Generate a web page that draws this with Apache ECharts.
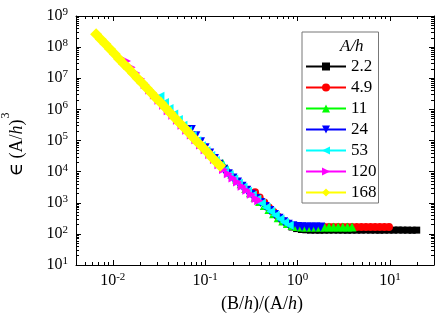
<!DOCTYPE html>
<html><head><meta charset="utf-8">
<script src="https://cdn.jsdelivr.net/npm/echarts@6/dist/echarts.min.js"></script>
<style>html,body{margin:0;padding:0;background:#fff}#c{width:436px;height:316px}</style>
</head><body><div id="c"></div>
<script>
// ---- data ----
const seriesNames = ['2.2', '4.9', '11', '24', '53', '120', '168'];

const x22 = [0.776,0.871,0.977,1.10,1.23,1.38,1.55,1.74,1.95,2.19,2.45,2.75,3.09,3.47,3.89,4.37,4.90,5.50,6.17,6.92,7.76,8.71,9.77,11.0,12.3,13.8,15.5,17.4,19.5];
const y22 = [200,166,148,138,135,132,132,131,132,132,133,132,132,131,132,132,132,133,132,132,131,132,132,132,133,132,132,131,132];

const x49 = [0.347,0.389,0.437,0.490,0.550,0.617,0.692,0.776,0.871,0.977,1.10,1.23,1.38,1.55,1.74,1.95,2.19,2.45,2.75,3.09,3.47,3.89,4.37,4.90,5.50,6.17,6.92,7.76,8.71,9.77];
const y49 = [2190,1480,1020,708,501,355,269,219,186,174,166,165,166,167,166,165,166,166,167,166,165,166,166,167,166,165,166,166,165,166];

const x11 = [0.155,0.174,0.195,0.219,0.245,0.275,0.309,0.347,0.389,0.437,0.490,0.550,0.617,0.692,0.776,0.871,0.977,1.10,1.23,1.38,1.55,1.74,1.95,2.19,2.45,2.75,3.09,3.47,3.89];
const y11 = [18600,12300,8300,5750,4070,2880,2090,1510,1100,813,603,447,331,257,214,186,174,166,166,167,166,165,166,166,167,166,165,166,166];

const x24 = [0.0708,0.0794,0.0891,0.100,0.112,0.126,0.141,0.158,0.178,0.200,0.224,0.251,0.282,0.316,0.355,0.398,0.447,0.501,0.562,0.631,0.708,0.794,0.891,1.00,1.12,1.26,1.41,1.58,1.78];
const y24 = [224000,141000,91000,59000,39800,26300,17400,12000,8500,6200,4600,3400,2500,1860,1380,1020,759,562,417,316,245,204,182,174,170,166,166,167,166];

const x53 = [0.0324,0.0363,0.0407,0.0457,0.0513,0.0575,0.0646,0.0724,0.0813,0.0912,0.102,0.115,0.129,0.145,0.162,0.182,0.204,0.229,0.257,0.288,0.324,0.363,0.407,0.457,0.513,0.575,0.646,0.724,0.813];
const y53 = [2630000,1660000,1070000,710000,470000,310000,209000,145000,98000,68000,47000,33000,22900,15500,11000,7900,5750,4270,3160,2340,1740,1290,955,708,525,398,302,234,190];

const x120 = [0.0141,0.0158,0.0178,0.0200,0.0224,0.0251,0.0282,0.0316,0.0355,0.0398,0.0447,0.0501,0.0562,0.0631,0.0708,0.0794,0.0891,0.100,0.112,0.126,0.141,0.158,0.178,0.200,0.224,0.251,0.282,0.316,0.355,0.380];
const y120 = [3.55e7,2.24e7,1.48e7,9.55e6,6.31e6,4.17e6,2.88e6,1.95e6,1.35e6,9.1e5,6.5e5,4.5e5,3.1e5,2.14e5,1.51e5,1.05e5,7.2e4,5.0e4,3.55e4,2.45e4,1.66e4,1.17e4,8.5e3,6.2e3,4.6e3,3.4e3,2.5e3,1.86e3,1.38e3,1.15e3];

const x168 = [0.00661,0.00741,0.00832,0.00933,0.0105,0.0117,0.0132,0.0148,0.0166,0.0186,0.0209,0.0234,0.0263,0.0295,0.0331,0.0372,0.0417,0.0468,0.0525,0.0589,0.0661,0.0741,0.0832,0.0933,0.105,0.117,0.132,0.145];
const y168 = [2.57e8,1.78e8,1.26e8,8.7e7,6.0e7,4.17e7,2.88e7,2.04e7,1.41e7,9.8e6,6.9e6,4.8e6,3.3e6,2.29e6,1.62e6,1.12e6,7.8e5,5.4e5,3.7e5,2.63e5,1.82e5,1.26e5,8.7e4,6.2e4,4.3e4,2.95e4,2.04e4,1.55e4];

// tick values
const xMajorTicks = [0.01, 0.1, 1, 10];
const xMinorTicks = [0.005,0.006,0.007,0.008,0.009,0.02,0.03,0.04,0.05,0.06,0.07,0.08,0.09,0.2,0.3,0.4,0.5,0.6,0.7,0.8,0.9,2,3,4,5,6,7,8,9,20];
const yMajorTicks = [1e1,1e2,1e3,1e4,1e5,1e6,1e7,1e8,1e9];
const yMinorTicks = [];
for (let e = 1; e <= 8; e++) for (let m = 2; m <= 9; m++) yMinorTicks.push(m * Math.pow(10, e));

// ---- styling ----
const colors = ['#000000','#ff0000','#00ff00','#0000ff','#00ffff','#ff00ff','#ffff00'];
const symbols = ['rect','circle','triangle','path://M0,0L10,0L5,10Z','path://M10,0L10,10L0,5Z','path://M0,0L10,5L0,10Z','diamond'];
const sizes = [7, 8, 9, 9, 9, 9, 12];
const xs = [x22, x49, x11, x24, x53, x120, x168];
const ys = [y22, y49, y11, y24, y53, y120, y168];

const FONT = 'Liberation Serif';
function powLabel(v) {
  const e = Math.round(Math.log10(v));
  return '{b|10}{s|' + e + '}';
}
const labelRich = {
  b: {fontFamily: FONT, fontSize: 16, lineHeight: 16, color: '#000'},
  s: {fontFamily: FONT, fontSize: 11, lineHeight: 11, color: '#000', padding: [0, 0, 8, 0]}
};

const X_MIN = 0.004, X_MAX = 30, Y_MIN = 10, Y_MAX = 1e9;
function xAxisDef(pos, major, withLabel, showLine) {
  return {
    type: 'log', logBase: 10, min: X_MIN, max: X_MAX, position: pos, gridIndex: 0,
    axisLine: {show: showLine, onZero: false, lineStyle: {color: '#000', width: 1}},
    axisTick: {show: true, inside: true, length: major ? 5 : 3, customValues: major ? xMajorTicks : xMinorTicks, lineStyle: {color: '#000', width: 1}},
    axisLabel: withLabel ? {show: true, customValues: xMajorTicks, formatter: powLabel, rich: labelRich, margin: 8} : {show: false},
    splitLine: {show: false}, minorTick: {show: false}
  };
}
function yAxisDef(pos, major, withLabel, showLine) {
  return {
    type: 'log', logBase: 10, min: Y_MIN, max: Y_MAX, position: pos, gridIndex: 0,
    axisLine: {show: showLine, onZero: false, lineStyle: {color: '#000', width: 1}},
    axisTick: {show: true, inside: true, length: major ? 5 : 3, customValues: major ? yMajorTicks : yMinorTicks, lineStyle: {color: '#000', width: 1}},
    axisLabel: withLabel ? {show: true, customValues: yMajorTicks, formatter: powLabel, rich: labelRich, margin: 8} : {show: false},
    splitLine: {show: false}, minorTick: {show: false}
  };
}

const xAxes = [
  xAxisDef('bottom', true, true, true),
  xAxisDef('bottom', false, false, false),
  xAxisDef('top', true, false, true),
  xAxisDef('top', false, false, false)
];
xAxes[0].name = '{t|(B/}{i|h}{t|)/(A/}{i|h}{t|)}';
xAxes[0].nameLocation = 'middle';
xAxes[0].nameGap = 29;
xAxes[0].nameTextStyle = {
  padding: [0, 0, 0, 14],
  rich: {
    t: {fontFamily: FONT, fontSize: 18, color: '#000'},
    i: {fontFamily: FONT, fontSize: 18, fontStyle: 'italic', color: '#000'}
  }
};
const yAxes = [
  yAxisDef('left', true, true, true),
  yAxisDef('left', false, false, false),
  yAxisDef('right', true, false, true),
  yAxisDef('right', false, false, false)
];
yAxes[0].name = '{e|\u2208}{t| (A/}{i|h}{t|)}{s|3}';
yAxes[0].nameLocation = 'middle';
yAxes[0].nameGap = 29;
yAxes[0].nameRotate = 90;
yAxes[0].nameTextStyle = {
  padding: [0, 8, 0, 0],
  rich: {
    e: {fontFamily: 'DejaVu Serif', fontSize: 18, lineHeight: 18, color: '#000'},
    t: {fontFamily: FONT, fontSize: 18, lineHeight: 18, color: '#000'},
    i: {fontFamily: FONT, fontSize: 18, lineHeight: 18, fontStyle: 'italic', color: '#000'},
    s: {fontFamily: FONT, fontSize: 12, lineHeight: 12, color: '#000', padding: [0, 0, 24, 1]}
  }
};

const series = seriesNames.map((n, i) => ({
  name: n, type: 'line', xAxisIndex: 0, yAxisIndex: 0,
  data: xs[i].map((x, j) => [x, ys[i][j]]),
  symbol: symbols[i], symbolSize: sizes[i], showSymbol: true, showAllSymbol: true,
  lineStyle: {color: colors[i], width: 1},
  itemStyle: {color: colors[i], borderWidth: 0},
  emphasis: {disabled: true},
  clip: true
}));

const chart = echarts.init(document.getElementById('c'), null, {renderer: 'canvas'});
chart.setOption({
  animation: false,
  backgroundColor: '#fff',
  grid: {left: 76, top: 16, right: 2, bottom: 51, containLabel: false, outerBoundsMode: 'none'},
  xAxis: xAxes,
  yAxis: yAxes,
  legend: {
    data: seriesNames, orient: 'vertical', left: 302, top: 32,
    padding: [26, 2, 2, 3], itemWidth: 40, itemHeight: 10, itemGap: 4,
    borderColor: '#777', borderWidth: 1, backgroundColor: '#fff',
    textStyle: {fontFamily: FONT, fontSize: 17, color: '#000'},
    selectedMode: false
  },
  graphic: [{
    type: 'text', left: 340, top: 38, z: 100,
    style: {text: 'A/h', font: 'italic 17px "Liberation Serif"', fill: '#000'}
  }],
  series: series
});
</script>
</body></html>
